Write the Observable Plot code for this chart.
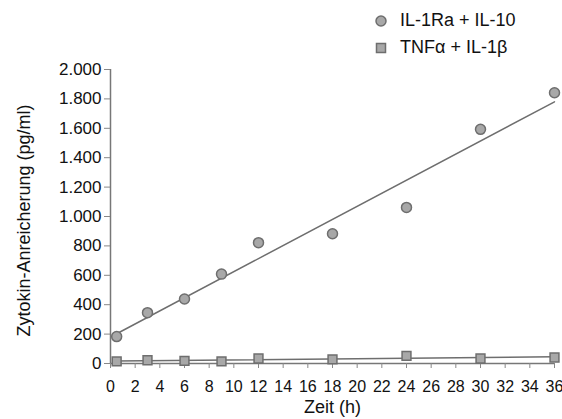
<!DOCTYPE html>
<html><head><meta charset="utf-8">
<script src="https://cdn.jsdelivr.net/npm/d3@7"></script>
<script src="https://cdn.jsdelivr.net/npm/@observablehq/plot@0.6"></script>
<style>
body{margin:0;background:#fff;font-family:"Liberation Sans",Arial,sans-serif;}
#wrap{position:relative;width:562px;height:419px;}
#legend{position:absolute;left:374px;top:7px;font-size:18px;color:#111;line-height:27px;}
.li{display:flex;align-items:center;height:27px;}
.sw{width:14px;display:inline-block;margin-right:12px;}
</style></head><body>
<div id="wrap"><div id="chart"></div>
<div id="legend">
<div class="li"><svg class="sw" width="14" height="14"><circle cx="7" cy="7" r="5" fill="#a8a8a8" stroke="#6e6e6e" stroke-width="1.5"/></svg>IL-1Ra + IL-10</div>
<div class="li"><svg class="sw" width="14" height="14"><rect x="2.5" y="2.5" width="9" height="9" fill="#a8a8a8" stroke="#6e6e6e" stroke-width="1.5"/></svg>TNFα + IL-1β</div>
</div></div>
<script>
const times = [0.5, 3, 6, 9, 12, 18, 24, 30, 36];
const il1ra = [183, 346, 439, 608, 822, 883, 1062, 1593, 1842];
const tnf = [14, 22, 18, 14, 34, 28, 52, 34, 41];
const yTicks = [0, 200, 400, 600, 800, 1000, 1200, 1400, 1600, 1800, 2000];
const xTicks = d3.range(0, 37, 2);

const a = times.map((t, i) => ({t, v: il1ra[i]}));
const b = times.map((t, i) => ({t, v: tnf[i]}));
const fmt = d => d3.format(",")(d).replace(/,/g, ".");

const chart = Plot.plot({
  width: 562, height: 419,
  marginLeft: 110, marginRight: 8, marginTop: 69, marginBottom: 56,
  style: {fontFamily: "Liberation Sans, Arial, sans-serif", fontSize: "17px", color: "#111"},
  x: {domain: [0, 36], label: null},
  y: {domain: [0, 2000], label: null},
  marks: [
    Plot.ruleX([0], {stroke: "#777", strokeWidth: 1.5}),
    Plot.ruleY([0], {stroke: "#777", strokeWidth: 1.5}),
    Plot.axisX({ticks: xTicks, tickFormat: d => d, stroke: "#888", tickSize: 5, tickPadding: 12, fontSize: 16, label: null}),
    Plot.axisY({ticks: yTicks, tickFormat: fmt, stroke: "#888", tickSize: 6, tickPadding: 3, fontSize: 17, label: null}),
    Plot.linearRegressionY(a, {x: "t", y: "v", ci: 0, stroke: "#6e6e6e", strokeWidth: 1.5}),
    Plot.linearRegressionY(b, {x: "t", y: "v", ci: 0, stroke: "#6e6e6e", strokeWidth: 1.5}),
    Plot.dot(a, {x: "t", y: "v", r: 5, fill: "#a8a8a8", stroke: "#6e6e6e", strokeWidth: 1.5}),
    Plot.dot(b, {x: "t", y: "v", symbol: "square", r: 5, fill: "#a8a8a8", stroke: "#6e6e6e", strokeWidth: 1.5}),
    Plot.text(["Zeit (h)"], {frameAnchor: "bottom", dy: 49, fontSize: 18, fill: "#111"}),
    Plot.text(["Zytokin-Anreicherung (pg/ml)"], {frameAnchor: "left", textAnchor: "middle", dx: -86, dy: 4, rotate: -90, fontSize: 18, fill: "#111", style: "letter-spacing:1.6px"})
  ]
});
document.getElementById("chart").appendChild(chart);
</script></body></html>
